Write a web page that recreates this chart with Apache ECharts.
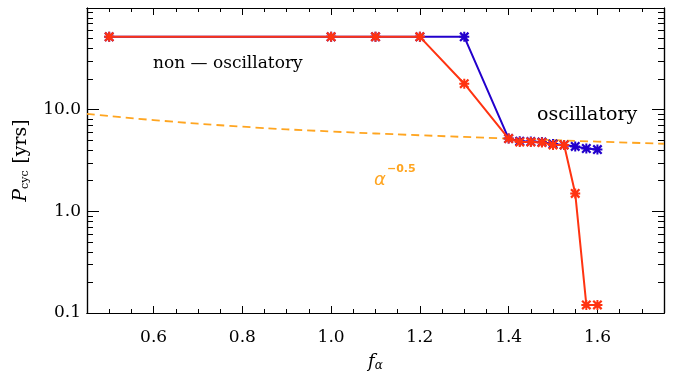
<!DOCTYPE html>
<html><head><meta charset="utf-8">
<script src="https://cdn.jsdelivr.net/npm/echarts@6/dist/echarts.min.js"></script>
<style>html,body{margin:0;padding:0;background:#fff}#c{width:685px;height:377px}</style>
</head><body><div id="c"></div>
<script>
// data
const redX = [0.5, 1.0, 1.1, 1.2, 1.3, 1.4, 1.425, 1.45, 1.475, 1.5, 1.525, 1.55, 1.575, 1.6];
const redY = [52, 52, 52, 52, 18, 5.2, 4.8, 4.8, 4.75, 4.5, 4.5, 1.5, 0.12, 0.12];
const blueX = [0.5, 1.0, 1.1, 1.2, 1.3, 1.4, 1.425, 1.45, 1.475, 1.5, 1.525, 1.55, 1.575, 1.6];
const blueY = [52, 52, 52, 52, 52, 5.2, 4.9, 4.85, 4.8, 4.6, 4.5, 4.35, 4.15, 4.05];
const fitX = [0.45, 0.6, 0.8, 1.0, 1.2, 1.4, 1.6, 1.75];
const fitY = [9.1, 7.9, 6.8, 6.1, 5.6, 5.2, 4.85, 4.62];
const xLabels = [0.6, 0.8, 1.0, 1.2, 1.4, 1.6];
const xMinor = [0.45,0.5,0.55,0.65,0.7,0.75,0.85,0.9,0.95,1.05,1.1,1.15,1.25,1.3,1.35,1.45,1.5,1.55,1.65,1.7,1.75];
const yLabels = [0.1, 1, 10];
const yMajor = [0.1, 1, 10, 100];
const yMinor = [0.2,0.3,0.4,0.5,0.6,0.7,0.8,0.9,2,3,4,5,6,7,8,9,20,30,40,50,60,70,80,90];

const RED = '#ff3311', BLUE = '#2200cc', ORANGE = '#ffa520';
const F = 'DejaVu Serif';
const star = 'path://M4 0L6 0L6 10L4 10Z M0 4L10 4L10 6L0 6Z M0 1.6L1.6 0L10 8.4L8.4 10Z M8.4 0L10 1.6L1.6 10L0 8.4Z';
const pair = (xs, ys) => xs.map((x, i) => [x, ys[i]]);

const xBase = (extra) => Object.assign({
  type: 'value', min: 0.45, max: 1.75,
  axisLine: {show: true, lineStyle: {color: '#000', width: 1.2}},
  splitLine: {show: false}, axisLabel: {show: false}, axisTick: {show: false}
}, extra);
const yBase = (extra) => Object.assign({
  type: 'log', logBase: 10, min: 0.1, max: 100,
  axisLine: {show: true, lineStyle: {color: '#000', width: 1.2}},
  splitLine: {show: false}, axisLabel: {show: false}, axisTick: {show: false}
}, extra);
const tk = (vals, len) => ({show: true, inside: true, length: len, customValues: vals, lineStyle: {color: '#000', width: 1}});

const chart = echarts.init(document.getElementById('c'), null, {renderer: 'canvas'});
chart.setOption({
  animation: false,
  grid: {left: 87, right: 21, top: 8, bottom: 64, containLabel: false, outerBoundsMode: 'none'},
  xAxis: [
    xBase({position: 'bottom', axisTick: tk(xLabels, 7),
      axisLabel: {show: true, customValues: xLabels, margin: 16, color: '#000', fontFamily: F, fontSize: 17,
        formatter: v => v.toFixed(1)},
      name: '{i|f}{s|α}', nameLocation: 'middle', nameGap: 39,
      nameTextStyle: {rich: {i: {fontFamily: F, fontStyle: 'italic', fontSize: 18, color: '#000'},
        s: {fontFamily: F, fontStyle: 'italic', fontSize: 12, color: '#000', verticalAlign: 'bottom', padding: [8, 0, 0, 0]}}}}),
    xBase({position: 'bottom', axisTick: tk(xMinor, 4)}),
    xBase({position: 'top', axisTick: tk(xLabels, 7)}),
    xBase({position: 'top', axisTick: tk(xMinor, 4)})
  ],
  yAxis: [
    yBase({position: 'left', axisTick: tk(yMajor, 12),
      axisLabel: {show: true, customValues: yLabels, margin: 6, color: '#000', fontFamily: F, fontSize: 17,
        formatter: v => Number(v).toFixed(1)},
      name: '{i|P}{s|cyc}  {n|[yrs]}', nameLocation: 'middle', nameGap: 56, nameRotate: 90,
      nameTextStyle: {rich: {i: {fontFamily: F, fontStyle: 'italic', fontSize: 19, color: '#000'},
        s: {fontFamily: F, fontSize: 11, color: '#000', padding: [9, 0, 0, 0]},
        n: {fontFamily: F, fontSize: 19, color: '#000'}}}}),
    yBase({position: 'left', axisTick: tk(yMinor, 6)}),
    yBase({position: 'right', axisTick: tk(yMajor, 12)}),
    yBase({position: 'right', axisTick: tk(yMinor, 6)})
  ],
  series: [
    {type: 'line', data: pair(fitX, fitY), smooth: true, showSymbol: false, symbol: 'none', z: 1,
      lineStyle: {color: ORANGE, width: 1.8, type: [8, 5]}},
    {type: 'line', data: pair(blueX, blueY), symbol: star, symbolSize: 10, z: 2,
      lineStyle: {color: BLUE, width: 2}, itemStyle: {color: BLUE}},
    {type: 'line', data: pair(redX, redY), symbol: star, symbolSize: 10, z: 3,
      lineStyle: {color: RED, width: 2}, itemStyle: {color: RED}}
  ],
  graphic: [
    {type: 'text', left: 153, top: 55, style: {text: 'non — oscillatory', font: '17px "DejaVu Serif"', fill: '#000'}},
    {type: 'text', left: 537, top: 106, style: {text: 'oscillatory', font: '19px "DejaVu Serif"', fill: '#000'}},
    {type: 'text', left: 374, top: 171, style: {text: 'α', font: 'italic 18px "DejaVu Sans"', fill: ORANGE}},
    {type: 'text', left: 387, top: 164, style: {text: '−0.5', font: 'bold 11px "DejaVu Sans"', fill: ORANGE}}
  ]
});
</script></body></html>
